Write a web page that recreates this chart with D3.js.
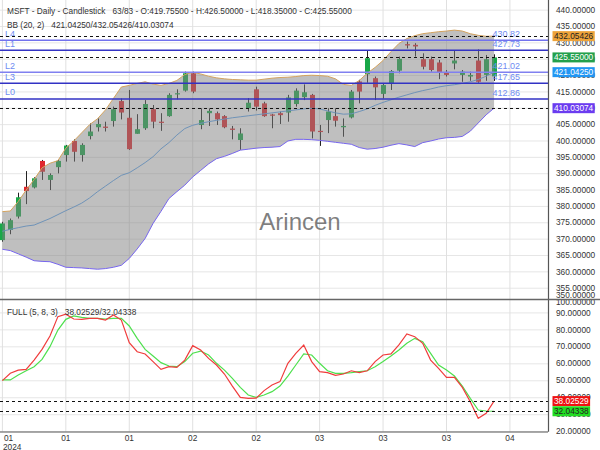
<!DOCTYPE html>
<html><head><meta charset="utf-8">
<script src="https://cdn.jsdelivr.net/npm/d3@7"></script>
<style>body{margin:0;background:#fff;} svg{display:block;font-family:"Liberation Sans",Arial,sans-serif;}</style>
</head><body><svg id="c" width="600" height="450"></svg>
<script>
// ---- data ----
const opens = [369.7,372.8,376.9,386.0,385.8,393.9,388.1,392.0,395.7,400.0,
395.7,401.5,404.2,404.4,406.1,412.2,407.1,402.2,403.9,409.7,
405.9,407.6,414.3,415.4,420.7,404.9,408.5,408.5,407.6,403.8,
400.3,410.0,415.8,411.5,408.1,408.5,408.7,411.3,413.4,414.1,
403.1,406.4,407.6,404.2,407.2,418.2,420.4,419.2,414.4,417.6,
421.5,429.6,429.4,425.0,425.0,424.0,421.0,423.7,420.2,419.7,
424.6,420.2,419.755];
const highs = [375.3,376.3,384.2,390.8,388.9,394.2,390.1,394.2,398.8,400.5,
399.3,405.4,406.9,405.9,410.5,413.0,415.6,408.2,412.5,411.0,
408.5,414.6,415.8,421.2,421.2,410.0,410.0,409.0,407.9,404.6,
403.9,413.1,416.6,412.0,408.3,409.0,414.1,416.1,417.3,414.4,
404.9,410.0,410.0,406.9,415.6,418.7,427.8,419.7,417.6,421.7,
425.8,430.4,429.9,426.8,425.8,424.8,421.7,427.8,421.7,421.2,
428.0,426.3,426.5];
const lows = [369.2,371.5,376.3,380.7,385.5,388.1,385.0,390.1,393.7,393.7,
393.7,400.5,402.9,402.9,404.4,406.6,397.3,402.2,403.4,403.9,
403.1,407.4,412.7,415.1,414.6,403.6,404.6,404.9,403.9,400.5,
397.3,409.0,409.3,407.4,403.9,405.2,405.9,410.5,412.5,400.8,
398.5,402.4,404.4,401.3,406.9,411.5,417.8,412.5,413.0,415.6,
420.7,428.3,425.8,421.9,421.2,418.9,419.7,421.9,418.1,418.4,
417.8,418.4,418.35];
const closes = [374.8,375.8,382.8,384.7,388.6,390.6,389.6,393.9,398.6,396.7,
398.8,402.9,405.2,404.0,409.7,408.7,397.5,403.6,411.3,405.9,
405.6,414.1,414.6,420.7,415.1,406.4,409.2,406.6,404.2,403.4,
402.3,411.7,410.5,407.6,407.8,407.9,413.3,415.4,414.9,402.9,
402.8,409.0,406.2,404.6,415.1,415.1,425.3,416.4,417.1,421.4,
425.1,429.2,428.9,422.7,421.7,420.9,420.2,424.6,421.2,420.2,
418.1,425.0,425.55];
const bbUpper = [378.4,378.6,381.5,385.0,388.2,391.8,393.2,394.0,397.8,400.0,
402.5,405.0,406.8,409.5,413.0,416.5,417.0,417.6,418.1,417.4,
417.0,417.6,418.5,420.3,421.0,420.5,419.8,419.3,419.0,418.8,
418.7,418.6,418.6,418.9,419.2,419.4,419.5,419.7,420.0,420.1,
420.0,419.8,419.0,417.3,417.0,418.5,420.7,422.5,424.6,427.3,
429.8,431.3,432.2,432.8,433.1,433.4,433.6,433.9,433.6,432.8,
432.3,432.0,432.05426];
const bbMiddle = [372.4,373.0,373.5,374.0,374.3,375.3,376.3,377.5,378.7,379.8,
381.0,382.6,384.5,386.2,387.9,389.5,390.3,391.8,393.4,395.2,
397.6,399.5,401.8,403.8,404.8,405.4,405.9,406.3,406.7,407.1,
407.4,407.7,408.0,408.3,408.6,408.9,409.2,409.5,409.8,410.0,
409.8,409.2,408.6,408.2,408.3,409.0,409.8,410.9,411.8,412.6,
413.4,414.1,414.8,415.4,415.9,416.5,416.9,417.2,417.6,418.1,
418.8,419.8,421.0425];
const bbLower = [366.9,366.5,365.5,364.5,363.4,363.2,363.1,362.3,361.4,361.3,
361.2,361.0,360.8,361.0,361.4,362.0,364.1,367.0,370.2,374.8,
378.5,382.4,384.5,386.5,389.0,391.0,393.0,394.6,395.3,396.2,
397.2,397.5,397.8,398.0,398.1,398.3,400.0,400.5,400.5,400.4,
400.2,399.9,399.6,399.3,399.0,398.0,397.5,397.7,398.1,398.7,
399.2,398.8,398.3,399.5,400.0,400.6,401.0,401.1,401.4,403.0,
405.5,408.0,410.03074];
const stochK = [50.1,54.4,56.3,56.7,62.2,68.5,76.4,87.8,89.2,86.4,
86.2,86.8,86.8,85.8,88.8,85.8,72.4,67.1,65.8,61.3,
56.7,58.3,57.9,62.2,70.7,68.1,63.2,59.3,54.0,46.9,
40.2,39.6,39.8,44.2,47.5,49.5,60.3,66.2,71.1,61.3,
55.4,54.8,53.2,54.0,55.9,54.8,55.9,61.3,65.2,65.8,
71.1,77.6,76.0,72.1,62.2,57.3,52.0,52.0,46.1,37.7,
27.9,30.8,38.02529];
const stochD = [50.5,50.5,53.4,55.9,58.3,62.6,70.1,79.9,86.2,88.2,
87.4,86.8,86.8,86.4,86.8,86.8,82.3,75.0,68.5,64.6,
60.7,58.7,58.3,61.3,66.2,67.5,65.2,60.3,56.3,51.4,
46.1,41.6,40.2,41.6,43.6,46.9,52.8,59.3,65.8,65.2,
60.3,55.9,54.4,54.4,54.8,55.4,55.9,58.3,61.3,64.6,
68.1,72.1,75.0,73.0,66.2,59.3,56.3,52.8,46.9,39.6,
32.8,32.2,32.04338];
const levelNames = ["L4","L1","L2","L3","L0"];
const levelValues = [430.82,427.73,421.02,417.65,412.86];
const xTickIndex = [0,8,16,24,32,40,48,56,64];
const xTickLabels = ["01","01","01","02","02","03","03","03","04"];
const priceTicks = [350,355,360,365,370,375,380,385,390,395,400,405,410,415,420,425,430,435,440];
const stochTicks = [20,30,40,50,60,70,80,90,100];
const lastOHLC = {o:419.755,h:426.5,l:418.35,c:425.55};

// ---- layout ----
const svg = d3.select("#c");
const PW = 548, TOP0 = 0, TOP1 = 299, BOT0 = 300, BOT1 = 431.7;
const n = closes.length;
const idx = d3.range(n);
const x = d3.scaleLinear().domain([-0.3, 68.8]).range([0, PW]);
const yP = d3.scaleLinear().domain([351.7, 443.1]).range([TOP1, TOP0]);
const yS = d3.scaleLinear().domain([20, 97.6]).range([BOT1, BOT0]);
const fmt5 = d3.format(".5f");
const FS = 8.3;

const defs = svg.append("defs");
defs.append("clipPath").attr("id","cu").append("rect").attr("x",0).attr("y",TOP0).attr("width",PW).attr("height",TOP1-TOP0);
defs.append("clipPath").attr("id","cl").append("rect").attr("x",0).attr("y",BOT0).attr("width",PW).attr("height",BOT1-BOT0);

// gridlines
const grid = svg.append("g");
grid.selectAll(".hp").data(priceTicks).join("line")
  .attr("x1",0).attr("x2",PW).attr("y1",d=>yP(d)).attr("y2",d=>yP(d))
  .attr("stroke","#e6e6e6").attr("stroke-width",1).attr("clip-path","url(#cu)");
grid.selectAll(".hs").data(stochTicks).join("line")
  .attr("x1",0).attr("x2",PW).attr("y1",d=>yS(d)).attr("y2",d=>yS(d))
  .attr("stroke","#e6e6e6").attr("stroke-width",1).attr("clip-path","url(#cl)");
grid.selectAll(".v").data(xTickIndex).join("line")
  .attr("x1",d=>x(d)).attr("x2",d=>x(d)).attr("y1",0).attr("y2",BOT1)
  .attr("stroke","#e0e0e0").attr("stroke-width",1);

// candles
const up = svg.append("g").attr("clip-path","url(#cu)");
const cg = up.append("g");
cg.selectAll("line.w").data(idx).join("line")
  .attr("x1",i=>Math.round(x(i))+0.5).attr("x2",i=>Math.round(x(i))+0.5)
  .attr("y1",i=>yP(highs[i])).attr("y2",i=>yP(lows[i]))
  .attr("stroke","#222").attr("stroke-width",1);
cg.selectAll("rect").data(idx).join("rect")
  .attr("x",i=>Math.round(x(i))-2).attr("width",5)
  .attr("y",i=>yP(Math.max(opens[i],closes[i])))
  .attr("height",i=>Math.max(1.2,Math.abs(yP(opens[i])-yP(closes[i]))))
  .attr("fill",i=>closes[i]>=opens[i]?"#18a848":"#e0282e");

// Bollinger band
up.append("path").datum(idx)
  .attr("d",d3.area().x(i=>x(i)).y0(i=>yP(bbLower[i])).y1(i=>yP(bbUpper[i])))
  .attr("fill","rgba(128,128,128,0.5)");
const bline = (arr,col)=>up.append("path").datum(idx)
  .attr("d",d3.line().x(i=>x(i)).y(i=>yP(arr[i])))
  .attr("fill","none").attr("stroke",col).attr("stroke-width",1);
bline(bbUpper,"#d4a35e");
bline(bbMiddle,"#6f93b8");
bline(bbLower,"#7766ee");

// level lines
const lvlColors = ["#7272ee","#3232c4","#8080f0","#3232c4","#3232c4"];
up.selectAll("line.lv").data(levelValues).join("line")
  .attr("x1",0).attr("x2",PW).attr("y1",d=>yP(d)).attr("y2",d=>yP(d))
  .attr("stroke",(d,i)=>lvlColors[i]).attr("stroke-width",1.5);
up.selectAll("text.ln").data(levelNames).join("text")
  .attr("x",5).attr("y",(d,i)=>yP(levelValues[i])-3.5)
  .attr("font-size",FS+0.7).attr("fill","#6f8cf2").text(d=>d);
up.selectAll("text.lvv").data(levelValues).join("text")
  .attr("x",x(n-1)-1.5).attr("y",d=>yP(d)-3)
  .attr("font-size",FS+0.7).attr("fill","#6f8cf2").text(d=>d.toFixed(2));

// dashed reference lines
const dashP = [bbUpper[n-1], closes[n-1], bbLower[n-1]];
up.selectAll("line.dp").data(dashP).join("line")
  .attr("x1",0).attr("x2",PW).attr("y1",d=>Math.round(yP(d))+0.5).attr("y2",d=>Math.round(yP(d))+0.5)
  .attr("stroke","#111").attr("stroke-width",1).attr("stroke-dasharray","3,3");

// watermark
svg.append("text").attr("x",300).attr("y",230).attr("text-anchor","middle")
  .attr("font-size",24).attr("fill","#555").attr("fill-opacity",0.75).text("Arincen");

// headers
svg.append("text").attr("x",7).attr("y",13.5).attr("font-size",FS).attr("fill","#333").style("white-space","pre")
  .text(`MSFT - Daily - Candlestick   63/83 - O:${fmt5(lastOHLC.o)} - H:${fmt5(lastOHLC.h)} - L:${fmt5(lastOHLC.l)} - C:${fmt5(lastOHLC.c)}`);
svg.append("text").attr("x",7).attr("y",28).attr("font-size",FS).attr("fill","#333").style("white-space","pre")
  .text(`BB (20, 2)   ${fmt5(bbMiddle[n-1])}/${fmt5(bbUpper[n-1])}/${fmt5(bbLower[n-1])}`);

// stochastic panel
const lo = svg.append("g").attr("clip-path","url(#cl)");
const sline = (arr,col)=>lo.append("path").datum(idx)
  .attr("d",d3.line().x(i=>x(i)).y(i=>yS(arr[i])))
  .attr("fill","none").attr("stroke",col).attr("stroke-width",1.2);
sline(stochD,"#4ee04e");
sline(stochK,"#f03c3c");
lo.selectAll("line.ds").data([stochK[n-1],stochD[n-1]]).join("line")
  .attr("x1",0).attr("x2",PW).attr("y1",d=>Math.round(yS(d))+0.5).attr("y2",d=>Math.round(yS(d))+0.5)
  .attr("stroke","#111").attr("stroke-width",1).attr("stroke-dasharray","3,3");
svg.append("text").attr("x",7).attr("y",314.5).attr("font-size",FS).attr("fill","#333").style("white-space","pre")
  .text(`FULL (5, 8, 3)   ${fmt5(stochK[n-1])}/${fmt5(stochD[n-1])}`);

// axes
const axP = svg.append("g").attr("transform",`translate(${PW},0)`)
  .call(d3.axisRight(yP).tickValues(priceTicks).tickSize(0).tickPadding(8).tickFormat(fmt5));
axP.selectAll(".tick").attr("transform",d=>`translate(0,${Math.max(4,Math.min(295.5,yP(d)))})`);
const axS = svg.append("g").attr("transform",`translate(${PW},0)`)
  .call(d3.axisRight(yS).tickValues(stochTicks).tickSize(0).tickPadding(8).tickFormat(fmt5));
axS.selectAll(".tick").attr("transform",d=>`translate(0,${Math.max(302.5,Math.min(432,yS(d)))})`);
[axP,axS].forEach(a=>{
  a.select(".domain").remove();
  a.selectAll("text").attr("font-size",FS).attr("fill","#333").attr("font-family","Liberation Sans, Arial, sans-serif");
});

// frame lines
svg.append("line").attr("x1",PW+0.5).attr("x2",PW+0.5).attr("y1",0).attr("y2",BOT1).attr("stroke","#555").attr("stroke-width",1.2);
svg.append("line").attr("x1",0).attr("x2",600).attr("y1",299.5).attr("y2",299.5).attr("stroke","#666").attr("stroke-width",1.5);
svg.append("line").attr("x1",0).attr("x2",PW).attr("y1",432).attr("y2",432).attr("stroke","#555").attr("stroke-width",1.2);

// value boxes (sized to their text)
const boxes = [
  {v:bbUpper[n-1], s:yP, bg:"#eda33a", fg:"#222"},
  {v:closes[n-1], s:yP, bg:"#23a04c", fg:"#fff"},
  {v:bbMiddle[n-1], s:yP, bg:"#2196f3", fg:"#fff"},
  {v:bbLower[n-1], s:yP, bg:"#6b3cf0", fg:"#fff"},
  {v:stochK[n-1], s:yS, bg:"#ee1111", fg:"#fff"},
  {v:stochD[n-1], s:yS, bg:"#22dd22", fg:"#222"}
];
const bx = svg.append("g");
boxes.forEach(b=>{
  const yy = b.s(b.v);
  const r = bx.append("rect").attr("x",552.5).attr("y",yy-5).attr("height",10).attr("fill",b.bg);
  const t = bx.append("text").attr("x",554).attr("y",yy+3).attr("font-size",FS).attr("fill",b.fg).text(fmt5(b.v));
  r.attr("width", t.node().getComputedTextLength()+3);
});

// x axis labels
const xl = svg.append("g");
xl.selectAll("text").data(xTickIndex).join("text")
  .attr("x",(d,i)=>i===0?4:x(d)).attr("y",441)
  .attr("text-anchor",(d,i)=>i===0?"start":"middle")
  .attr("font-size",FS).attr("fill","#333").text((d,i)=>xTickLabels[i]);
xl.append("text").attr("x",3).attr("y",449.5).attr("font-size",FS).attr("fill","#333").text("2024");
</script></body></html>
